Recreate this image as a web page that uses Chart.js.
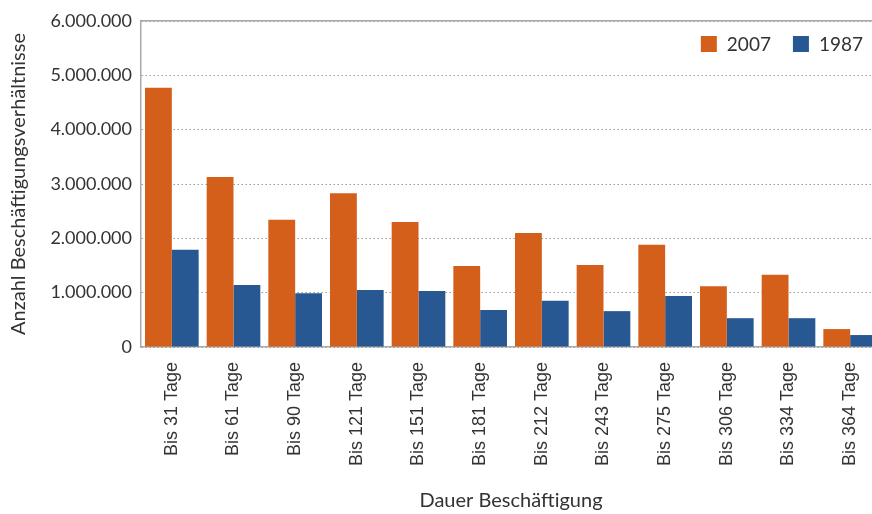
<!DOCTYPE html>
<html><head><meta charset="utf-8">
<script src="https://cdn.jsdelivr.net/npm/chart.js@4/dist/chart.umd.min.js"></script>
<style>html,body{margin:0;padding:0;overflow:hidden;background:#fff}#wrap{width:884px;height:514px}</style>
</head><body><div id="wrap"><canvas id="c" width="884" height="514"></canvas></div>
<script>
const categories = ["Bis 31 Tage","Bis 61 Tage","Bis 90 Tage","Bis 121 Tage","Bis 151 Tage","Bis 181 Tage","Bis 212 Tage","Bis 243 Tage","Bis 275 Tage","Bis 306 Tage","Bis 334 Tage","Bis 364 Tage"];
const values2007 = [4770000,3130000,2340000,2830000,2300000,1490000,2100000,1510000,1880000,1120000,1330000,330000];
const values1987 = [1790000,1140000,990000,1050000,1030000,680000,850000,660000,940000,530000,530000,220000];
const seriesLabels = ["2007","1987"];
const yTitle = "Anzahl Beschäftigungsverhältnisse";
const xTitle = "Dauer Beschäftigung";

const fmt = v => String(v).replace(/\B(?=(\d{3})+(?!\d))/g, ".");
const txt = "#333333";

const insideLegend = {
  id: "insideLegend",
  afterDraw(chart) {
    const ctx = chart.ctx;
    const font = "19px Lato";
    ctx.save();
    ctx.font = font;
    ctx.textBaseline = "middle";
    ctx.textAlign = "left";
    const box = 16, gapText = 10, gapItem = 22;
    const cy = 44;
    let x = 863;
    const ds = chart.data.datasets;
    for (let i = ds.length - 1; i >= 0; i--) {
      const w = ctx.measureText(ds[i].label).width;
      const tx = x - w;
      ctx.fillStyle = txt;
      ctx.fillText(ds[i].label, tx, cy + 1);
      const bx = tx - gapText - box;
      ctx.fillStyle = ds[i].backgroundColor;
      ctx.fillRect(bx, cy - box / 2, box, box);
      x = bx - gapItem;
    }
    ctx.restore();
  }
};

new Chart(document.getElementById("c"), {
  type: "bar",
  data: {
    labels: categories,
    datasets: [
      {label: seriesLabels[0], data: values2007, backgroundColor: "#D35F1B", barPercentage: 1, categoryPercentage: 0.87},
      {label: seriesLabels[1], data: values1987, backgroundColor: "#285891", barPercentage: 1, categoryPercentage: 0.87}
    ]
  },
  plugins: [insideLegend],
  options: {
    responsive: false, animation: false,
    layout: {padding: {top: 21, right: 3, left: 0, bottom: 0}},
    plugins: {
      tooltip: {enabled: false},
      legend: {display: false}
    },
    scales: {
      x: {
        grid: {display: false},
        border: {color: "#aaaaaa", width: 1.5},
        ticks: {color: txt, font: {family: "Liberation Sans", size: 18}, maxRotation: 90, minRotation: 90, padding: 7, autoSkip: false},
        title: {display: true, text: xTitle, color: txt, font: {family: "Lato", size: 20}, padding: {top: 0, bottom: 1}},
        afterFit: s => { s.height = 167; }
      },
      x2: {
        position: "top", type: "category", labels: categories,
        grid: {display: false}, ticks: {display: false},
        border: {color: "#aaaaaa", width: 1.5},
        afterFit: s => { s.height = 0; }
      },
      y: {
        min: 0, max: 6000000,
        grid: {color: "#999999", lineWidth: 1, drawTicks: false},
        border: {color: "#aaaaaa", width: 1.5, dash: [1.5, 2.5]},
        ticks: {stepSize: 1000000, color: txt, font: {family: "Lato", size: 18}, padding: 9, callback: v => fmt(v)},
        title: {display: true, text: yTitle, color: txt, font: {family: "Lato", size: 20}, padding: {top: 7, bottom: 0}},
        afterFit: s => { s.width = 141; }
      }
    }
  }
});
</script></body></html>
